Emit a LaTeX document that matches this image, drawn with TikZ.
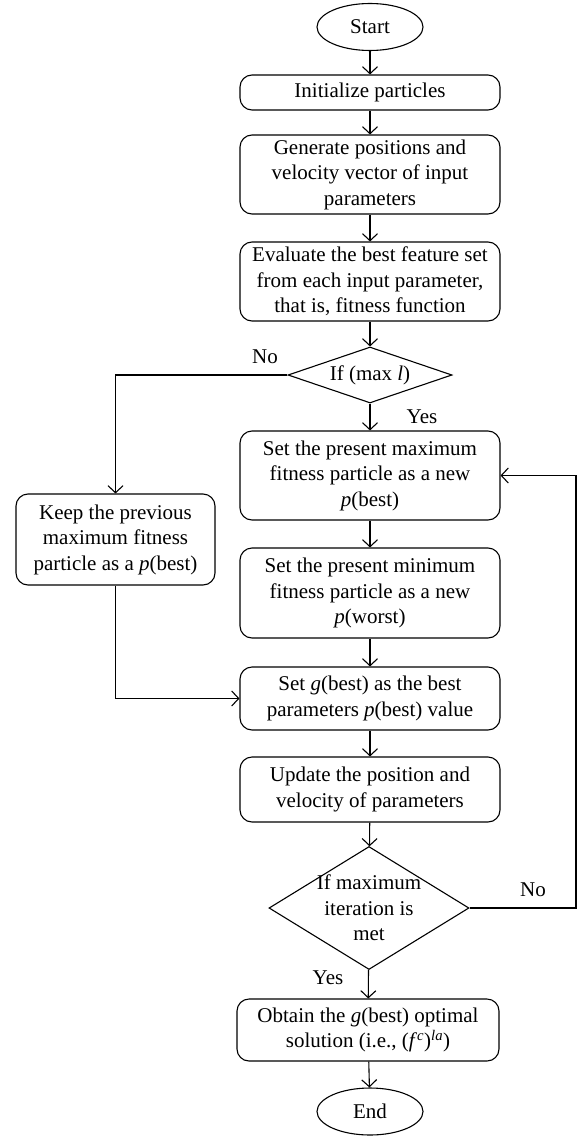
\documentclass[tikz,border=0pt]{standalone}
\usepackage{fontspec}
\setmainfont{Liberation Serif}
\usetikzlibrary{positioning, shapes.geometric, arrows.meta}

\begin{document}
\begin{tikzpicture}[x=1pt, y=-1pt, font=\fontsize{21}{25.5}\selectfont, line width=1.1pt, >={Straight Barb[length=7pt,width=15pt]}]
  \tikzstyle{box}=[draw, rounded corners=12pt, align=center, minimum width=260pt, inner sep=3pt]
  \tikzstyle{term}=[draw, ellipse, minimum width=106pt, minimum height=47pt, inner sep=0pt]
  \tikzstyle{decision}=[draw, diamond, align=center]
  \useasboundingbox (0,0) rectangle (581,1137);
  \node[term](start) at (370,27) {Start};
  \node[box, minimum height=35pt](init) at (370,92.5) {Initialize particles};
  \node[box, minimum height=79pt](gen) at (370,174.5) {Generate positions and\\velocity vector of input\\parameters};
  \node[box, minimum height=79pt](eval) at (370,281.5) {Evaluate the best feature set\\from each input parameter,\\that is, fitness function};
  \node[decision, aspect=2.9, inner sep=0pt, minimum width=164pt, minimum height=56pt](dec1) at (370,375) {If (max \textit{l})};
  \node[box, minimum height=89pt](max) at (370,475.5) {Set the present maximum\\fitness particle as a new\\\textit{p}(best)};
  \node[box, minimum height=90pt](min) at (370,593) {Set the present minimum\\fitness particle as a new\\\textit{p}(worst)};
  \node[box, minimum width=199pt, minimum height=91pt](keep) at (115.5,539.5) {Keep the previous\\maximum fitness\\particle as a \textit{p}(best)};
  \node[box, minimum height=63pt](gbest) at (370,698.5) {Set \textit{g}(best) as the best\\parameters \textit{p}(best) value};
  \node[box, minimum height=65pt](update) at (370,789.5) {Update the position and\\velocity of parameters};
  \node[decision, aspect=1.63, inner sep=-4pt, minimum width=200pt, minimum height=123pt](dec2) at (369,908) {If maximum\\iteration is\\met};
  \node[box, minimum width=262pt, minimum height=62pt](obtain) at (368,1030) {Obtain the \textit{g}(best) optimal\\solution (i.e., (\textit{f}\textsuperscript{\textit{c}})\textsuperscript{\textit{la}})};
  \node[term](end) at (370,1111.5) {End};
  \coordinate (loop) at (576,908);
  % labels
  \node(no1) at (265,357) {No};
  \node(yes1) at (422,417) {Yes};
  \node(no2) at (533,890) {No};
  \node(yes2) at (328,978) {Yes};
  % connectors
  \draw[->](start) -- (init);
  \draw[->](init) -- (gen);
  \draw[->](gen) -- (eval);
  \draw[->](eval) -- (dec1);
  \draw[->](dec1) -- (max);
  \draw[->](dec1.west) -| (keep.north);
  \draw[->](max) -- (min);
  \draw[->](min) -- (gbest);
  \draw[->](keep.south) |- (gbest.west);
  \draw[->](gbest) -- (update);
  \draw[->](update) -- (dec2);
  \draw[->](dec2.east) -- (loop) |- (max.east);
  \draw[->](dec2) -- (obtain);
  \draw[->](obtain) -- (end);
\end{tikzpicture}
\end{document}
